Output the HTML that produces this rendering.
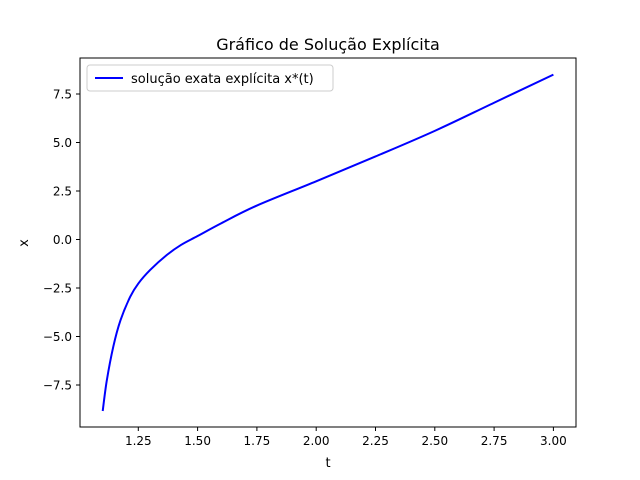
<!DOCTYPE html>
<html><head><meta charset="utf-8"><style>
body{margin:0;background:#fff;}
svg{display:block;font-family:"DejaVu Sans","Liberation Sans",sans-serif;}
</style></head><body>
<svg id="chart" width="640" height="480">
<rect width="640" height="480" fill="#fff"/>
<text x="328" y="50" text-anchor="middle" font-size="16">Gráfico de Solução Explícita</text>
<g id="ticks"></g>
<path id="curve" fill="none" stroke="#0000ff" stroke-width="2"/>
<rect x="80" y="58" width="496" height="369" fill="none" stroke="#000" stroke-width="1"/>
<text x="328" y="467" text-anchor="middle" font-size="13">t</text>
<text x="28" y="243" text-anchor="middle" font-size="13" transform="rotate(-90 28 243)">x</text>
<g>
<rect x="87" y="65" width="246" height="26" rx="3" fill="#fff" stroke="#ccc"/>
<line x1="95" y1="78" x2="123" y2="78" stroke="#0000ff" stroke-width="2"/>
<text x="131" y="83" font-size="13">solução exata explícita x*(t)</text>
</g>
</svg>
<script>
const tVals=[1.1,1.117,1.145,1.175,1.216,1.25,1.30,1.37,1.43,1.5,1.6,1.75,2.0,2.25,2.5,2.75,3.0];
const xVals=[-8.84,-7.28,-5.5,-4.16,-2.95,-2.27,-1.57,-0.80,-0.28,0.18,0.84,1.75,3.0,4.28,5.6,7.05,8.5];
const xTicks=[1.25,1.5,1.75,2.0,2.25,2.5,2.75,3.0];
const xTickLabels=["1.25","1.50","1.75","2.00","2.25","2.50","2.75","3.00"];
const yTicks=[-7.5,-5,-2.5,0,2.5,5,7.5];
const yTickLabels=["−7.5","−5.0","−2.5","0.0","2.5","5.0","7.5"];
const sx=t=>138.3+(t-1.25)*237.2;
const sy=v=>239.5-v*19.4;
const NS="http://www.w3.org/2000/svg";
const g=document.getElementById('ticks');
function mk(tag,attrs){const e=document.createElementNS(NS,tag);for(const k in attrs)e.setAttribute(k,attrs[k]);g.appendChild(e);return e;}
xTicks.forEach((t,i)=>{
 const l=mk('line',{x1:sx(t),x2:sx(t),y1:427,y2:431,stroke:'#000'});
 
 
 const tx=mk('text',{x:sx(t),y:445,'text-anchor':'middle','font-size':12});
 
 
 tx.textContent=xTickLabels[i];
});
yTicks.forEach((v,i)=>{
 const l=mk('line',{x1:76,x2:80,y1:sy(v),y2:sy(v),stroke:'#000'});
 
 
 const tx=mk('text',{x:72,y:sy(v)+4.5,'text-anchor':'end','font-size':12});
 
 
 tx.textContent=yTickLabels[i];
});
// Catmull-Rom (centripetal-ish, non-uniform) smooth path
const P=tVals.map((t,i)=>[sx(t),sy(xVals[i])]);
let d='M'+P[0][0]+','+P[0][1];
for(let i=0;i<P.length-1;i++){
 const p0=P[Math.max(0,i-1)],p1=P[i],p2=P[i+1],p3=P[Math.min(P.length-1,i+2)];
 const c1=[p1[0]+(p2[0]-p0[0])/6,p1[1]+(p2[1]-p0[1])/6];
 const c2=[p2[0]-(p3[0]-p1[0])/6,p2[1]-(p3[1]-p1[1])/6];
 d+=' C'+c1+' '+c2+' '+p2;
}
document.getElementById('curve').setAttribute('d',d);
</script>
</body></html>
